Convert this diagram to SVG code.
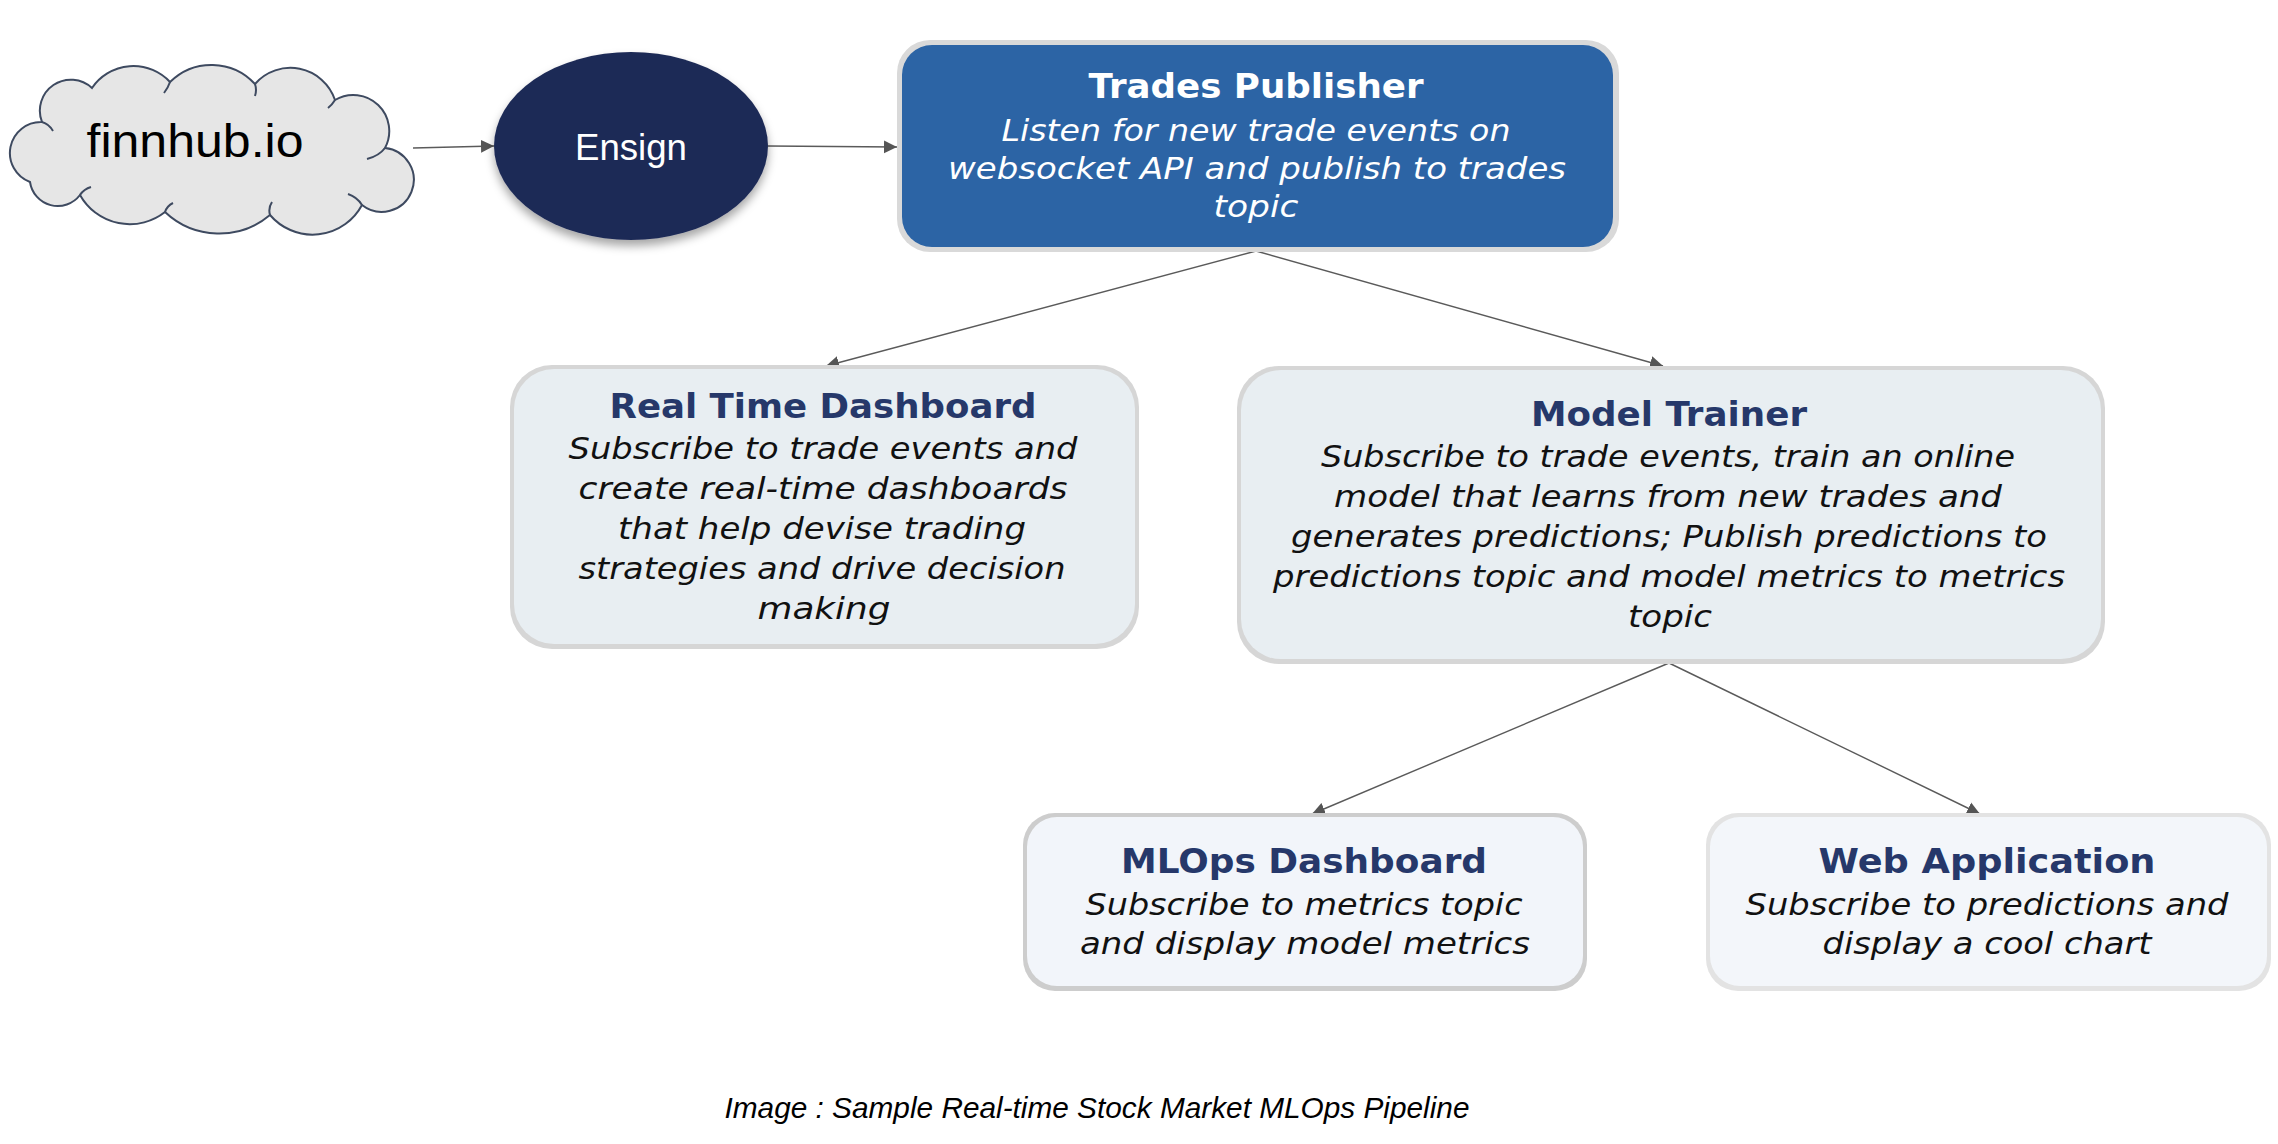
<svg xmlns="http://www.w3.org/2000/svg" width="2278" height="1144" viewBox="0 0 2278 1144">
<style>
.title{font-family:"DejaVu Sans","Open Sans",sans-serif;font-weight:bold;font-size:34px;fill:#26386A;text-anchor:middle}
.body{font-family:"DejaVu Sans","Open Sans",sans-serif;font-style:italic;font-size:30px;fill:#111111;text-anchor:middle}
.wt{fill:#FFFFFF}
.conn{stroke:#5A5A5A;stroke-width:1.4;fill:none;marker-end:url(#arr)}
.cusp{fill:none;stroke:#3E4A60;stroke-width:2}
</style>
<defs>
<marker id="arr" markerUnits="userSpaceOnUse" markerWidth="14" markerHeight="14" refX="13" refY="7" orient="auto">
<path d="M0,0.5 L13,7 L0,13.5 Z" fill="#555555"/>
</marker>
<filter id="sh" x="-20%" y="-20%" width="140%" height="150%">
<feDropShadow dx="0" dy="6" stdDeviation="5" flood-color="#000000" flood-opacity="0.35"/>
</filter>
</defs>
<rect width="2278" height="1144" fill="#FFFFFF"/>

<g id="connectors">
<line class="conn" x1="413" y1="148" x2="494" y2="146"/>
<line class="conn" x1="768" y1="146" x2="897" y2="147"/>
<line class="conn" x1="1256" y1="251" x2="826" y2="366"/>
<line class="conn" x1="1256" y1="251" x2="1663" y2="366"/>
<line class="conn" x1="1669" y1="663" x2="1312" y2="814"/>
<line class="conn" x1="1669" y1="663" x2="1980" y2="814"/>
</g>

<g id="finnhub">
<path d="M30,182 A31,31 0 0 1 42,122 A31,31 0 0 1 92,88 A50,50 0 0 1 170,82 A59,59 0 0 1 255,84 A47,47 0 0 1 335,100 A36,36 0 0 1 385,148 A32,32 0 1 1 362,205 A56,56 0 0 1 270,215 A79,79 0 0 1 165,212 A57,57 0 0 1 80,195 A28,28 0 0 1 30,182 Z" fill="#E6E6E6" stroke="#3E4A60" stroke-width="2"/>
<path class="cusp" d="M42,122 q7,2 11,9 M170,82 q-2,6 -6,11 M255,84 q2,6 0,12 M335,100 q-3,5 -7,8 M385,148 q-6,8 -18,11 M362,205 q-5,-8 -14,-11 M270,215 q-2,-7 2,-13 M165,212 q2,-6 8,-9 M80,195 q4,-6 11,-8"/>
<text x="195" y="157" font-family="Liberation Sans, Arial, sans-serif" font-size="46" fill="#000000" text-anchor="middle" textLength="217" lengthAdjust="spacingAndGlyphs">finnhub.io</text>
</g>

<g id="ensign">
<ellipse cx="631" cy="146" rx="137" ry="94" fill="#1F2B56" filter="url(#sh)"/>
<text x="631" y="160" font-family="Liberation Sans, Arial, sans-serif" font-size="37" fill="#FFFFFF" text-anchor="middle" textLength="112" lengthAdjust="spacingAndGlyphs">Ensign</text>
</g>

<g id="trades-publisher">
<rect x="897" y="40" width="722" height="212" rx="33" fill="#D9D9D9"/>
<rect x="902" y="45" width="711" height="202" rx="30" fill="#2C64A5"/>
<text class="title wt" x="1256" y="98" textLength="335" lengthAdjust="spacingAndGlyphs">Trades Publisher</text>
<text class="body wt" x="1256" y="141" textLength="509" lengthAdjust="spacingAndGlyphs">Listen for new trade events on</text>
<text class="body wt" x="1257" y="179" textLength="618" lengthAdjust="spacingAndGlyphs">websocket API and publish to trades</text>
<text class="body wt" x="1256" y="217" textLength="85" lengthAdjust="spacingAndGlyphs">topic</text>
</g>

<g id="real-time-dashboard">
<rect x="510" y="365" width="629" height="284" rx="42" fill="#D6D6D6"/>
<rect x="514" y="369" width="621" height="275" rx="40" fill="#E8EEF2"/>
<text class="title" x="823" y="418" textLength="427" lengthAdjust="spacingAndGlyphs">Real Time Dashboard</text>
<text class="body" x="823" y="459" textLength="509" lengthAdjust="spacingAndGlyphs">Subscribe to trade events and</text>
<text class="body" x="823" y="499" textLength="489" lengthAdjust="spacingAndGlyphs">create real-time dashboards</text>
<text class="body" x="822" y="539" textLength="408" lengthAdjust="spacingAndGlyphs">that help devise trading</text>
<text class="body" x="822" y="579" textLength="487" lengthAdjust="spacingAndGlyphs">strategies and drive decision</text>
<text class="body" x="824" y="619" textLength="133" lengthAdjust="spacingAndGlyphs">making</text>
</g>

<g id="model-trainer">
<rect x="1237" y="366" width="868" height="298" rx="42" fill="#D6D6D6"/>
<rect x="1241" y="370" width="860" height="289" rx="40" fill="#E8EEF2"/>
<text class="title" x="1669" y="426" textLength="276" lengthAdjust="spacingAndGlyphs">Model Trainer</text>
<text class="body" x="1668" y="467" textLength="694" lengthAdjust="spacingAndGlyphs">Subscribe to trade events, train an online</text>
<text class="body" x="1668" y="507" textLength="668" lengthAdjust="spacingAndGlyphs">model that learns from new trades and</text>
<text class="body" x="1669" y="547" textLength="756" lengthAdjust="spacingAndGlyphs">generates predictions; Publish predictions to</text>
<text class="body" x="1669" y="587" textLength="792" lengthAdjust="spacingAndGlyphs">predictions topic and model metrics to metrics</text>
<text class="body" x="1670" y="627" textLength="84" lengthAdjust="spacingAndGlyphs">topic</text>
</g>

<g id="mlops-dashboard">
<rect x="1023" y="813" width="564" height="178" rx="32" fill="#CDCDCD"/>
<rect x="1027" y="817" width="556" height="169" rx="30" fill="#F2F5FA"/>
<text class="title" x="1304" y="873" textLength="366" lengthAdjust="spacingAndGlyphs">MLOps Dashboard</text>
<text class="body" x="1304" y="915" textLength="437" lengthAdjust="spacingAndGlyphs">Subscribe to metrics topic</text>
<text class="body" x="1305" y="954" textLength="450" lengthAdjust="spacingAndGlyphs">and display model metrics</text>
</g>

<g id="web-application">
<rect x="1706" y="813" width="565" height="178" rx="32" fill="#E3E3E3"/>
<rect x="1710" y="817" width="557" height="169" rx="30" fill="#F3F6FA"/>
<text class="title" x="1987" y="873" textLength="337" lengthAdjust="spacingAndGlyphs">Web Application</text>
<text class="body" x="1987" y="915" textLength="483" lengthAdjust="spacingAndGlyphs">Subscribe to predictions and</text>
<text class="body" x="1987" y="954" textLength="329" lengthAdjust="spacingAndGlyphs">display a cool chart</text>
</g>

<text x="1097" y="1118" font-family="Liberation Sans, Arial, sans-serif" font-style="italic" font-size="29" fill="#000000" text-anchor="middle" textLength="745" lengthAdjust="spacingAndGlyphs">Image : Sample Real-time Stock Market MLOps Pipeline</text>
</svg>
